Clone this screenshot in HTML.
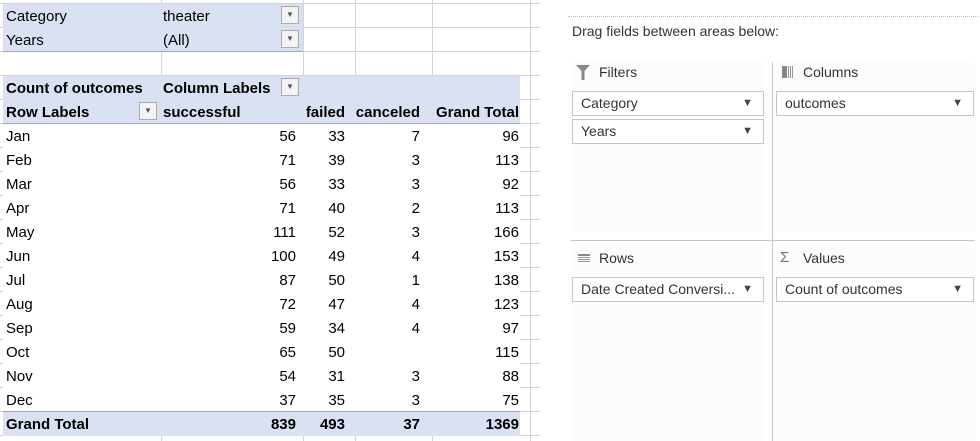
<!DOCTYPE html>
<html><head><meta charset="utf-8"><style>
body{margin:0;width:980px;height:441px;background:#fff;font-family:"Liberation Sans",sans-serif;overflow:hidden;position:relative}
.c{position:absolute;font-size:15px;line-height:24px;white-space:nowrap;color:#000;margin-top:2px}
.gv{position:absolute;width:1px;background:#d4d4d4}
.gh{position:absolute;height:1px;background:#d4d4d4}
.b{font-weight:bold}
.r{text-align:right}
.dd{position:absolute;width:18px;height:18px;border:1px solid #ababab;background:#f3f3f3;box-sizing:border-box;font-size:8px;line-height:16px;text-align:center;color:#555}
.p{position:absolute;font-size:14px;color:#333}
.box{position:absolute;height:25px;border:1px solid #c6c6c6;background:#fff;box-sizing:border-box;font-size:14px;line-height:23px;padding-left:8px;color:#333}
.box span{position:absolute;right:10px;top:0;font-size:11px;color:#444}
</style></head><body>
<div id="sheet"></div>
<div>
<div style="position:absolute;left:568px;top:16px;width:410px;border-top:1px dotted #bbb"></div>
<div class="p" style="left:572px;top:23px">Drag fields between areas below:</div>
<div style="position:absolute;left:571px;top:62px;width:193px;height:170px;background:#fcfcfc"></div>
<div style="position:absolute;left:776px;top:62px;width:199px;height:170px;background:#fcfcfc"></div>
<div style="position:absolute;left:571px;top:248px;width:193px;height:193px;background:#fcfcfc"></div>
<div style="position:absolute;left:776px;top:248px;width:199px;height:193px;background:#fcfcfc"></div>
<div style="position:absolute;left:772px;top:62px;width:1px;height:379px;background:#c6c6c6"></div>
<div style="position:absolute;left:571px;top:240px;width:404px;height:1px;background:#c6c6c6"></div>
<svg style="position:absolute;left:576px;top:65px" width="14" height="15"><path d="M0 0H14L8.5 6V15H5.5V6Z" fill="#888"/></svg>
<div class="p" style="left:599px;top:64px">Filters</div>
<svg style="position:absolute;left:782px;top:66px" width="12" height="12"><rect x="0" y="0" width="5" height="12" fill="#888"/><rect x="6" y="0" width="1" height="12" fill="#999"/><rect x="8" y="0" width="1" height="12" fill="#999"/><rect x="10" y="0" width="1" height="12" fill="#999"/></svg>
<div class="p" style="left:803px;top:64px">Columns</div>
<svg style="position:absolute;left:578px;top:254px" width="12" height="10"><rect y="0" width="12" height="2" fill="#888"/><rect y="3" width="12" height="1" fill="#999"/><rect y="5" width="12" height="1" fill="#999"/><rect y="7" width="12" height="1" fill="#999"/></svg>
<div class="p" style="left:599px;top:250px">Rows</div>
<div class="p" style="left:780px;top:249px;color:#777;font-size:15px">&Sigma;</div>
<div class="p" style="left:803px;top:250px">Values</div>
<div class="box" style="left:572px;top:91px;width:192px">Category<span>&#9660;</span></div>
<div class="box" style="left:572px;top:119px;width:192px">Years<span>&#9660;</span></div>
<div class="box" style="left:776px;top:91px;width:198px">outcomes<span>&#9660;</span></div>
<div class="box" style="left:572px;top:277px;width:192px">Date Created Conversi...<span>&#9660;</span></div>
<div class="box" style="left:776px;top:277px;width:198px">Count of outcomes<span>&#9660;</span></div>
</div>
<script>
const months=["Jan","Feb","Mar","Apr","May","Jun","Jul","Aug","Sep","Oct","Nov","Dec"];
const successful=[56,71,56,71,111,100,87,72,59,65,54,37];
const failed=[33,39,33,40,52,49,50,47,34,50,31,35];
const canceled=[7,3,3,2,3,4,1,4,4,null,3,3];
const totals=[96,113,92,113,166,153,138,123,97,115,88,75];
const grand=[839,493,37,1369];
const S=document.getElementById('sheet');
const rowH=24,top0=3;
function add(html,cls,style,name,inter){const d=document.createElement('div');d.className=cls;d.style.cssText=style;d.innerHTML=html;


S.appendChild(d);return d;}
for(let i=0;i<=18;i++){add('','gh','left:0;top:'+(top0+i*rowH)+'px;width:540px','grid-row-line',false);}
[161,303,355,432,530].forEach(x=>add('','gv','left:'+x+'px;top:0;height:441px','grid-col-line',false));
add('','', 'position:absolute;left:3px;top:4px;width:300px;height:47px;background:#d9e1f2;border-bottom:1px solid #8ea9db','filter-area-fill',false);
add('','', 'position:absolute;left:3px;top:76px;width:517px;height:47px;background:#d9e1f2;border-bottom:1px solid #8ea9db','header-fill',false);
add('','', 'position:absolute;left:3px;top:124px;width:517px;height:287px;background:#fff','body-fill',false);
add('','', 'position:absolute;left:3px;top:411px;width:517px;height:24px;background:#d9e1f2;border-top:1px solid #8ea9db','grand-total-fill',false);
function txt(t,x,y,w,cls,name){return add(t,'c '+(cls||''),'left:'+x+'px;top:'+y+'px;'+(w?'width:'+w+'px;':''),name,false);}
txt('Category',6,3,0,'','category-label');
txt('theater',163,3,0,'','category-value');
txt('Years',6,27,0,'','years-label');
txt('(All)',163,27,0,'','years-value');
add('&#9660;','dd','left:281px;top:6px','category-filter-button',true);
add('&#9660;','dd','left:281px;top:30px','years-filter-button',true);
txt('Count of outcomes',6,75,0,'b','values-header');
txt('Column Labels',163,75,0,'b','column-labels-header');
add('&#9660;','dd','left:281px;top:78px','column-labels-filter',true);
txt('Row Labels',6,99,0,'b','row-labels-header');
add('&#9660;','dd','left:139px;top:102px','row-labels-filter',true);
txt('successful',163,99,0,'b','successful-header');
txt('failed',280,99,65,'b r','failed-header');
txt('canceled',335,99,85,'b r','canceled-header');
txt('Grand Total',400,99,119,'b r','grand-total-header');
const rx=[296,345,420,519];
months.forEach((m,i)=>{const y=top0+(5+i)*rowH;
txt(m,6,y,0,'','row-'+m.toLowerCase());
[successful[i],failed[i],canceled[i],totals[i]].forEach((v,j)=>{if(v!==null)txt(String(v),rx[j]-60,y,60,'r','cell-value');});});
const gy=top0+17*rowH;
txt('Grand Total',6,gy,0,'b','grand-total-label');
grand.forEach((v,j)=>txt(String(v),rx[j]-60,gy,60,'b r','grand-total-value'));
</script>
</body></html>
